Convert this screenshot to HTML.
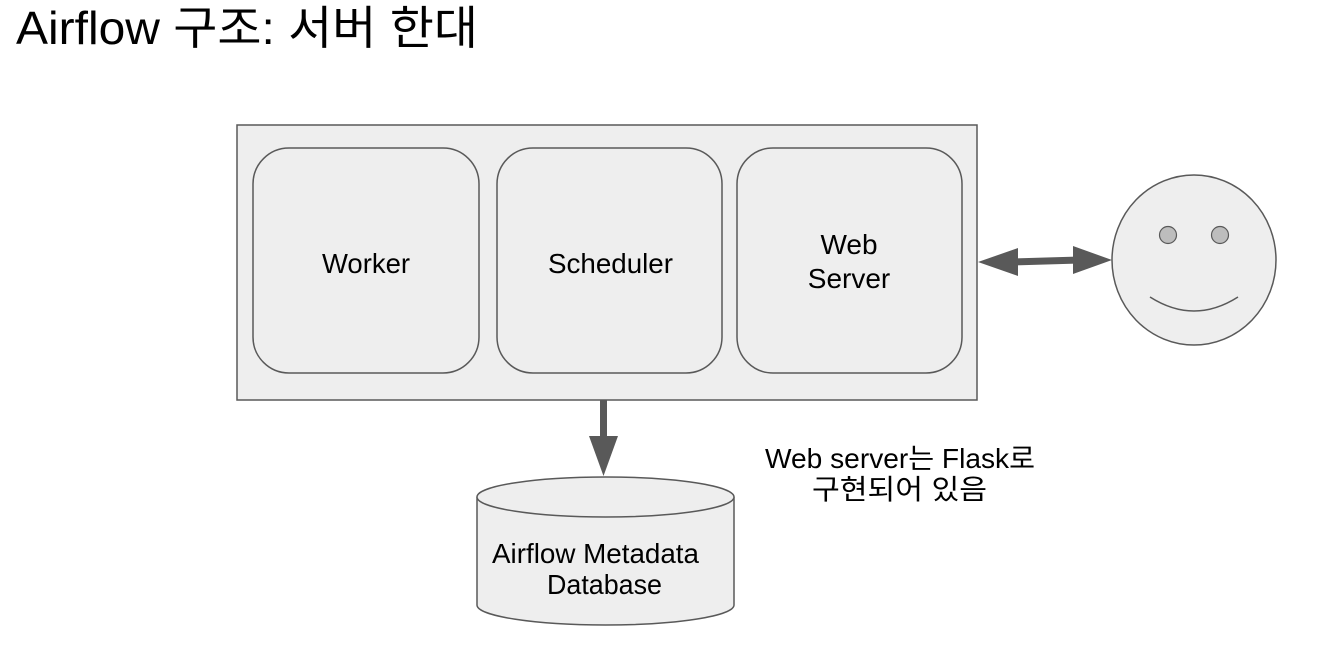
<!DOCTYPE html>
<html><head><meta charset="utf-8"><style>
body{margin:0;background:#fff;}
svg{display:block;}
text{font-family:"Liberation Sans","Noto Sans CJK KR",sans-serif;fill:#000;}
</style></head><body>
<svg width="1335" height="663" viewBox="0 0 1335 663">
<text x="16" y="44" font-size="46" textLength="462" lengthAdjust="spacingAndGlyphs">Airflow 구조: 서버 한대</text>
<rect x="237" y="125" width="740" height="275" fill="#eeeeee" stroke="#595959" stroke-width="1.5"/>
<rect x="253" y="148" width="226" height="225" rx="36" fill="#eeeeee" stroke="#595959" stroke-width="1.5"/>
<rect x="497" y="148" width="225" height="225" rx="36" fill="#eeeeee" stroke="#595959" stroke-width="1.5"/>
<rect x="737" y="148" width="225" height="225" rx="36" fill="#eeeeee" stroke="#595959" stroke-width="1.5"/>
<text x="322" y="273" font-size="28" textLength="88" lengthAdjust="spacingAndGlyphs">Worker</text>
<text x="548" y="273" font-size="28" textLength="125" lengthAdjust="spacingAndGlyphs">Scheduler</text>
<text x="849" y="254" font-size="28" text-anchor="middle">Web</text>
<text x="849" y="288" font-size="28" text-anchor="middle">Server</text>
<line x1="1010" y1="262" x2="1080" y2="260" stroke="#595959" stroke-width="7"/>
<polygon points="978,262 1018,248 1018,276" fill="#595959"/>
<polygon points="1112,260 1073,246 1073,274" fill="#595959"/>
<ellipse cx="1194" cy="260" rx="82" ry="85" fill="#eeeeee" stroke="#595959" stroke-width="1.5"/>
<circle cx="1168" cy="235" r="8.5" fill="#bdbdbd" stroke="#595959" stroke-width="1.2"/>
<circle cx="1220" cy="235" r="8.5" fill="#bdbdbd" stroke="#595959" stroke-width="1.2"/>
<path d="M1150 297 Q1194 325 1238 297" fill="none" stroke="#595959" stroke-width="1.5"/>
<line x1="603.5" y1="400" x2="603.5" y2="440" stroke="#595959" stroke-width="7"/>
<polygon points="589,436 618,436 603.5,476" fill="#595959"/>
<path d="M477 497 L477 605 A128.5 20 0 0 0 734 605 L734 497" fill="#eeeeee" stroke="#595959" stroke-width="1.5"/>
<ellipse cx="605.5" cy="497" rx="128.5" ry="20" fill="#eeeeee" stroke="#595959" stroke-width="1.5"/>
<text x="492" y="563" font-size="28" textLength="207" lengthAdjust="spacingAndGlyphs">Airflow Metadata</text>
<text x="547" y="594" font-size="28" textLength="115" lengthAdjust="spacingAndGlyphs">Database</text>
<text x="765" y="468" font-size="28" textLength="270" lengthAdjust="spacingAndGlyphs">Web server는 Flask로</text>
<text x="812" y="499" font-size="28" textLength="175" lengthAdjust="spacingAndGlyphs">구현되어 있음</text>
</svg>
</body></html>
